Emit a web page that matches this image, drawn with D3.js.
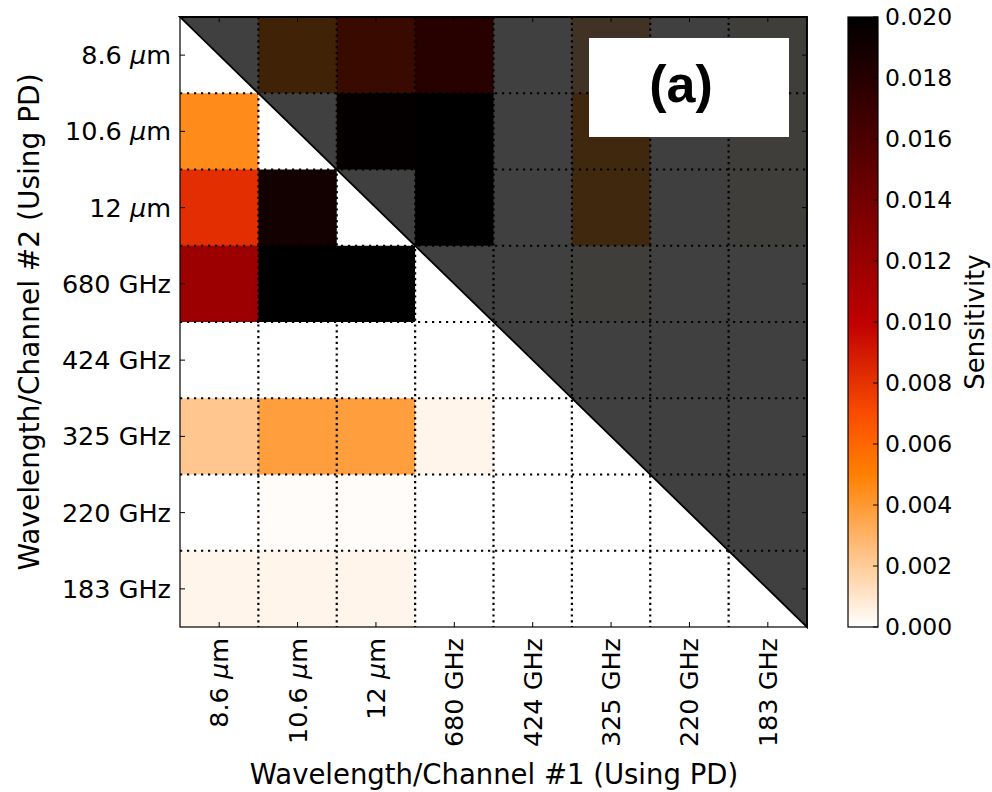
<!DOCTYPE html>
<html>
<head>
<meta charset="utf-8">
<script src="https://cdn.jsdelivr.net/npm/d3@7"></script>
<style>
  body { margin: 0; background: #fff; }
  svg { display: block; font-family: "DejaVu Sans", sans-serif; }
</style>
</head>
<body>
<svg width="992" height="792"></svg>
<script>
// channel names, same order on both axes
var channels = ["8.6", "10.6", "12", "680 GHz", "424 GHz", "325 GHz", "220 GHz", "183 GHz"];
var isMicron = [true, true, true, false, false, false, false, false];

// sensitivity, one array per row (channel #2), columns = channel #1
var row86   = [0,      0.0045, 0.0082, 0.0118, 0, 0.0022, 0,      0.0004];
var row106  = [0.0045, 0,      0.0190, 0.0200, 0, 0.0038, 0.0001, 0.0004];
var row12   = [0.0082, 0.0190, 0,      0.0200, 0, 0.0038, 0.0001, 0.0004];
var row680  = [0.0118, 0.0200, 0.0200, 0,      0, 0.0004, 0,      0];
var row424  = [0,      0,      0,      0,      0, 0,      0,      0];
var row325  = [0.0022, 0.0038, 0.0038, 0.0004, 0, 0,      0,      0];
var row220  = [0,      0.0001, 0.0001, 0,      0, 0,      0,      0];
var row183  = [0.0004, 0.0004, 0.0004, 0,      0, 0,      0,      0];
var rows = [row86, row106, row12, row680, row424, row325, row220, row183];

var cbTicks = [0, 0.002, 0.004, 0.006, 0.008, 0.010, 0.012, 0.014, 0.016, 0.018, 0.020];
var vmax = 0.02;

var svg = d3.select("svg"),
    margin = {left: 180, top: 17},
    width = 627,
    height = 610;

// gist_heat_r
function gistHeatR(t) {
    var x = 1 - Math.max(0, Math.min(1, t));
    var r = Math.min(1, 1.5 * x),
        g = Math.max(0, Math.min(1, 2 * x - 1)),
        b = Math.max(0, Math.min(1, 4 * x - 3));
    return d3.rgb(r * 255, g * 255, b * 255).formatHex();
}
var color = d3.scaleSequential(gistHeatR).domain([0, vmax]);

var xScale = d3.scaleBand().domain(d3.range(channels.length)).range([0, width]);
var yScale = d3.scaleBand().domain(d3.range(channels.length)).range([0, height]);

var g = svg.append("g")
    .attr("transform", `translate(${margin.left},${margin.top})`);

var cells = [];
rows.forEach(function(r, i) {
    r.forEach(function(v, j) { cells.push({row: i, col: j, value: v}); });
});

g.selectAll(".cell")
    .data(cells)
    .enter().append("rect")
    .attr("class", "cell")
    .attr("x", function(d) { return xScale(d.col); })
    .attr("y", function(d) { return yScale(d.row); })
    .attr("width", xScale.bandwidth() + 0.5)
    .attr("height", yScale.bandwidth() + 0.5)
    .attr("fill", function(d) { return color(d.value); });

// dotted grid on cell boundaries
var bounds = d3.range(1, channels.length);
g.selectAll(".vgrid")
    .data(bounds)
    .enter().append("line")
    .attr("x1", function(d) { return xScale(d); })
    .attr("x2", function(d) { return xScale(d); })
    .attr("y1", 0).attr("y2", height)
    .attr("stroke", "#000").attr("stroke-width", 2.2)
    .attr("stroke-dasharray", "2.2,3.6");
g.selectAll(".hgrid")
    .data(bounds)
    .enter().append("line")
    .attr("y1", function(d) { return yScale(d); })
    .attr("y2", function(d) { return yScale(d); })
    .attr("x1", 0).attr("x2", width)
    .attr("stroke", "#000").attr("stroke-width", 2.2)
    .attr("stroke-dasharray", "2.2,4.8");

// shaded upper triangle
g.append("path")
    .attr("d", `M0,0L${width},0L${width},${height}Z`)
    .attr("fill", "#000")
    .attr("fill-opacity", 0.75)
    .attr("stroke", "#000")
    .attr("stroke-width", 1.8);

// axes with inward ticks
var centers = function(s) { return function(d) { return s(d) + s.bandwidth() / 2; }; };
function ticks(sel, horizontal, pos, len) {
    var sc = horizontal ? xScale : yScale;
    sel.selectAll(null)
        .data(d3.range(channels.length))
        .enter().append("line")
        .attr(horizontal ? "x1" : "y1", centers(sc))
        .attr(horizontal ? "x2" : "y2", centers(sc))
        .attr(horizontal ? "y1" : "x1", pos)
        .attr(horizontal ? "y2" : "x2", pos + len)
        .attr("stroke", "#000").attr("stroke-width", 1);
}
ticks(g, true, 0, 5);
ticks(g, true, height, -5);
ticks(g, false, 0, 5);
ticks(g, false, width, -5);

g.append("rect")
    .attr("width", width).attr("height", height)
    .attr("fill", "none").attr("stroke", "#000").attr("stroke-width", 1.2);

function label(sel, i) {
    if (isMicron[i]) {
        sel.append("tspan").text(channels[i] + " ");
        sel.append("tspan").attr("font-style", "italic").text("\u03bc");
        sel.append("tspan").text("m");
    } else {
        sel.text(channels[i]);
    }
}

// y tick labels
g.selectAll(".ylab")
    .data(d3.range(channels.length))
    .enter().append("text")
    .attr("x", -9)
    .attr("y", centers(yScale))
    .attr("dy", "0.35em")
    .attr("text-anchor", "end")
    .attr("font-size", 25.5)
    .each(function(d) { label(d3.select(this), d); });

// x tick labels, rotated
g.selectAll(".xlab")
    .data(d3.range(channels.length))
    .enter().append("text")
    .attr("transform", function(d) { return `translate(${centers(xScale)(d)},${height + 11}) rotate(-90)`; })
    .attr("dy", "0.35em")
    .attr("text-anchor", "end")
    .attr("font-size", 25.5)
    .each(function(d) { label(d3.select(this), d); });

svg.append("text")
    .attr("x", 494)
    .attr("y", 784)
    .attr("text-anchor", "middle")
    .attr("font-size", 27.5)
    .text("Wavelength/Channel #1 (Using PD)");

svg.append("text")
    .attr("transform", `translate(39,${margin.top + height / 2}) rotate(-90)`)
    .attr("text-anchor", "middle")
    .attr("font-size", 28)
    .text("Wavelength/Channel #2 (Using PD)");

// panel tag
svg.append("rect")
    .attr("x", 589).attr("y", 38).attr("width", 200).attr("height", 99)
    .attr("fill", "#fff");
svg.append("text")
    .attr("x", 681).attr("y", 102)
    .attr("text-anchor", "middle")
    .attr("font-family", "Liberation Sans, Arial, sans-serif")
    .attr("font-weight", "bold")
    .attr("font-size", 52)
    .text("(a)");

// colorbar
var cb = {x: 848, y: margin.top, w: 30, h: height};
var defs = svg.append("defs");
var grad = defs.append("linearGradient")
    .attr("id", "cbgrad")
    .attr("x1", 0).attr("y1", 1).attr("x2", 0).attr("y2", 0);
d3.range(0, 1.0001, 0.05).forEach(function(t) {
    grad.append("stop").attr("offset", t).attr("stop-color", color(t * vmax));
});
var cbScale = d3.scaleLinear().domain([0, vmax]).range([cb.y + cb.h, cb.y]);
svg.append("rect")
    .attr("x", cb.x).attr("y", cb.y).attr("width", cb.w).attr("height", cb.h)
    .attr("fill", "url(#cbgrad)")
    .attr("stroke", "#000").attr("stroke-width", 1.2);
svg.selectAll(".cbtick")
    .data(cbTicks)
    .enter().append("line")
    .attr("x1", cb.x + cb.w - 5).attr("x2", cb.x + cb.w)
    .attr("y1", cbScale).attr("y2", cbScale)
    .attr("stroke", "#000");
svg.selectAll(".cblab")
    .data(cbTicks)
    .enter().append("text")
    .attr("x", cb.x + cb.w + 7)
    .attr("y", cbScale)
    .attr("dy", "0.35em")
    .attr("font-size", 23.5)
    .text(d3.format(".3f"));
svg.append("text")
    .attr("transform", `translate(984,${cb.y + cb.h / 2}) rotate(-90)`)
    .attr("text-anchor", "middle")
    .attr("font-size", 26)
    .text("Sensitivity");
</script>
</body>
</html>
